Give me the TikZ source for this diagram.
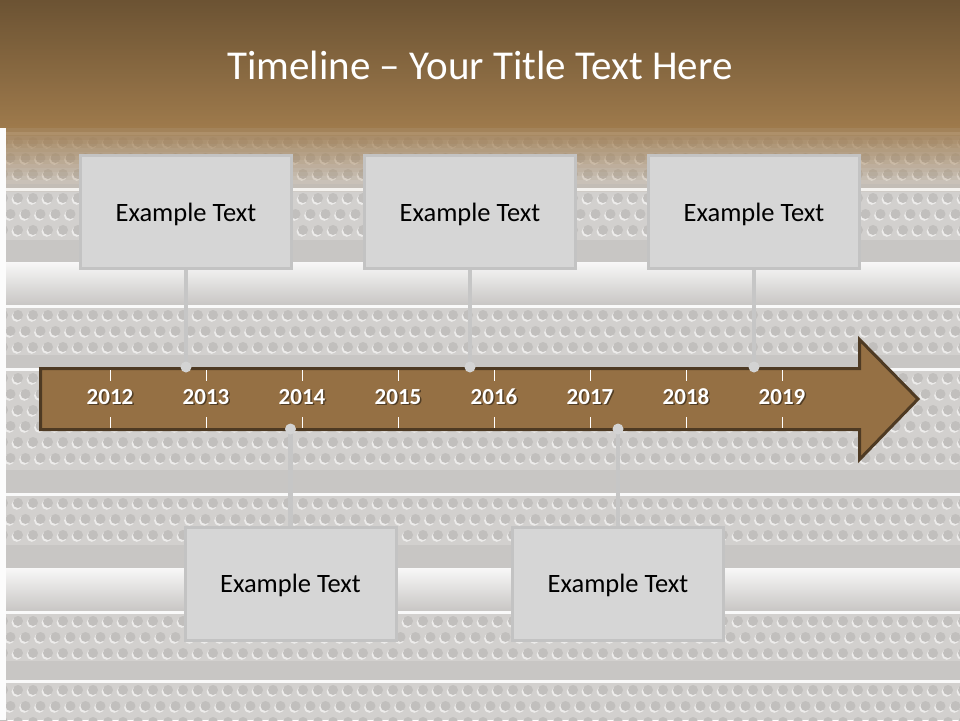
\documentclass[tikz,border=0pt]{standalone}
\usepackage{fontspec}
\setmainfont{Carlito}
\definecolor{hdrtop}{HTML}{6C5333}
\definecolor{hdrbot}{HTML}{9E7A4C}
\definecolor{bgbase}{HTML}{C8C6C4}
\definecolor{bandlight}{HTML}{D2D0CE}
\definecolor{holecol}{HTML}{C1BFBD}
\definecolor{arrowfill}{HTML}{957044}
\definecolor{arrowline}{HTML}{4E3A23}
\definecolor{boxfill}{HTML}{D6D6D6}
\definecolor{boxline}{HTML}{C3C3C3}
\definecolor{connline}{HTML}{C6C6C6}
\definecolor{dotcol}{HTML}{D3D3D3}
\newcommand\perfband[3]{% #1 top y, #2 height, #3 last row index
  \fill[bandlight] (0,#1) rectangle (960,#1+#2);
  \fill[white!90!bgbase] (0,#1) rectangle (960,#1+3);
  \foreach \r in {0,...,#3}{
    \pgfmathsetmacro\yy{#1+10+16*\r}
    \pgfmathsetmacro\xo{mod(\r,2)*7.5+3}
    \foreach \i in {0,...,64}{
      \fill[white,opacity=0.6] (\xo+15*\i-1.2,\yy+1.6) circle (5.2);
      \fill[holecol] (\xo+15*\i,\yy) circle (5);
    }
  }
}
\newcommand\tubeband[2]{% #1 top y, #2 height
  \foreach \k in {0,...,#2}{
    \pgfmathtruncatemacro\pc{88*(1-\k/#2)}
    \fill[white!\pc!bgbase] (0,#1+\k) rectangle (960,#1+\k+1.2);
  }
}
\begin{document}
\begin{tikzpicture}[x=1pt,y=-1pt,
  exbox/.style={draw=boxline, line width=3pt, fill=boxfill, minimum width=211pt,
    minimum height=113pt, inner sep=0pt, text depth=0pt, font=\fontsize{26.5}{30}\selectfont, text=black},
  conn/.style={draw=connline, line width=4.5pt},
  knob/.style={circle, fill=dotcol, minimum size=11pt, inner sep=0pt},
  yearlbl/.style={font=\bfseries\fontsize{23}{26}\selectfont, text=white, anchor=base, inner sep=0pt},
  yearshadow/.style={font=\bfseries\fontsize{23}{26}\selectfont, text=black, opacity=0.45, anchor=base, inner sep=0pt},
  tickmark/.style={draw=white, line width=1pt},
  titletext/.style={font=\fontsize{41}{46}\selectfont, text=white, anchor=base, inner sep=0pt}
]
\useasboundingbox (0,0) rectangle (960,720);
% ---------- background texture ----------
\fill[bgbase] (0,0) rectangle (960,720);
\perfband{132}{52}{2}
\perfband{188}{52}{2}
\tubeband{262}{43}
\perfband{305}{50}{2}
\perfband{368}{102}{5}
\perfband{493}{52}{2}
\tubeband{568}{43}
\perfband{611}{50}{2}
\perfband{680}{40}{2}
% ---------- header ----------
\foreach \k in {0,...,127}{
  \pgfmathtruncatemacro\pc{100*\k/127}
  \fill[hdrbot!\pc!hdrtop] (0,\k) rectangle (960,\k+1.2);
}
\foreach \k in {0,...,15}{
  \pgfmathsetmacro\op{0.88*(1-\k/16)}
  \fill[hdrbot,opacity=\op] (0,128+4*\k) rectangle (960,132+4*\k);
}
\fill[white!95!bgbase] (0,128) rectangle (6,720);
\node[titletext] (title) at (480,79) {Timeline – Your Title Text Here};
% ---------- arrow ----------
\draw[fill=arrowfill, draw=arrowline, line width=3pt]
  (40.5,368.5) -- (859.5,368.5) -- (859.5,339.5) -- (918,399) -- (859.5,459.5)
  -- (859.5,429.5) -- (40.5,429.5) -- cycle;
\foreach \k in {0,...,7}{
  \pgfmathtruncatemacro\yr{2012+\k}
  \draw[tickmark] (110+96*\k,370) -- (110+96*\k,381);
  \draw[tickmark] (110+96*\k,417) -- (110+96*\k,428);
  \node[yearshadow] (ys\k) at (111.5+96*\k,405.5) {\yr};
  \node[yearlbl] (yl\k) at (110+96*\k,404) {\yr};
}
% ---------- boxes ----------
\node[exbox] (b1) at (186,212) {Example Text};
\node[exbox] (b2) at (470,212) {Example Text};
\node[exbox] (b3) at (754,212) {Example Text};
\node[exbox] (b4) at (290.5,583.5) {Example Text};
\node[exbox] (b5) at (618,583.5) {Example Text};
% ---------- connectors ----------
\coordinate (k1) at (186,367);
\coordinate (k2) at (470,367);
\coordinate (k3) at (754,367);
\coordinate (k4) at (290.5,429);
\coordinate (k5) at (618,429);
\draw[conn] (b1.south) -- (k1);
\draw[conn] (b2.south) -- (k2);
\draw[conn] (b3.south) -- (k3);
\draw[conn] (b4.north) -- (k4);
\draw[conn] (b5.north) -- (k5);
\node[knob] (d1) at (k1) {};
\node[knob] (d2) at (k2) {};
\node[knob] (d3) at (k3) {};
\node[knob] (d4) at (k4) {};
\node[knob] (d5) at (k5) {};
\end{tikzpicture}
\end{document}
